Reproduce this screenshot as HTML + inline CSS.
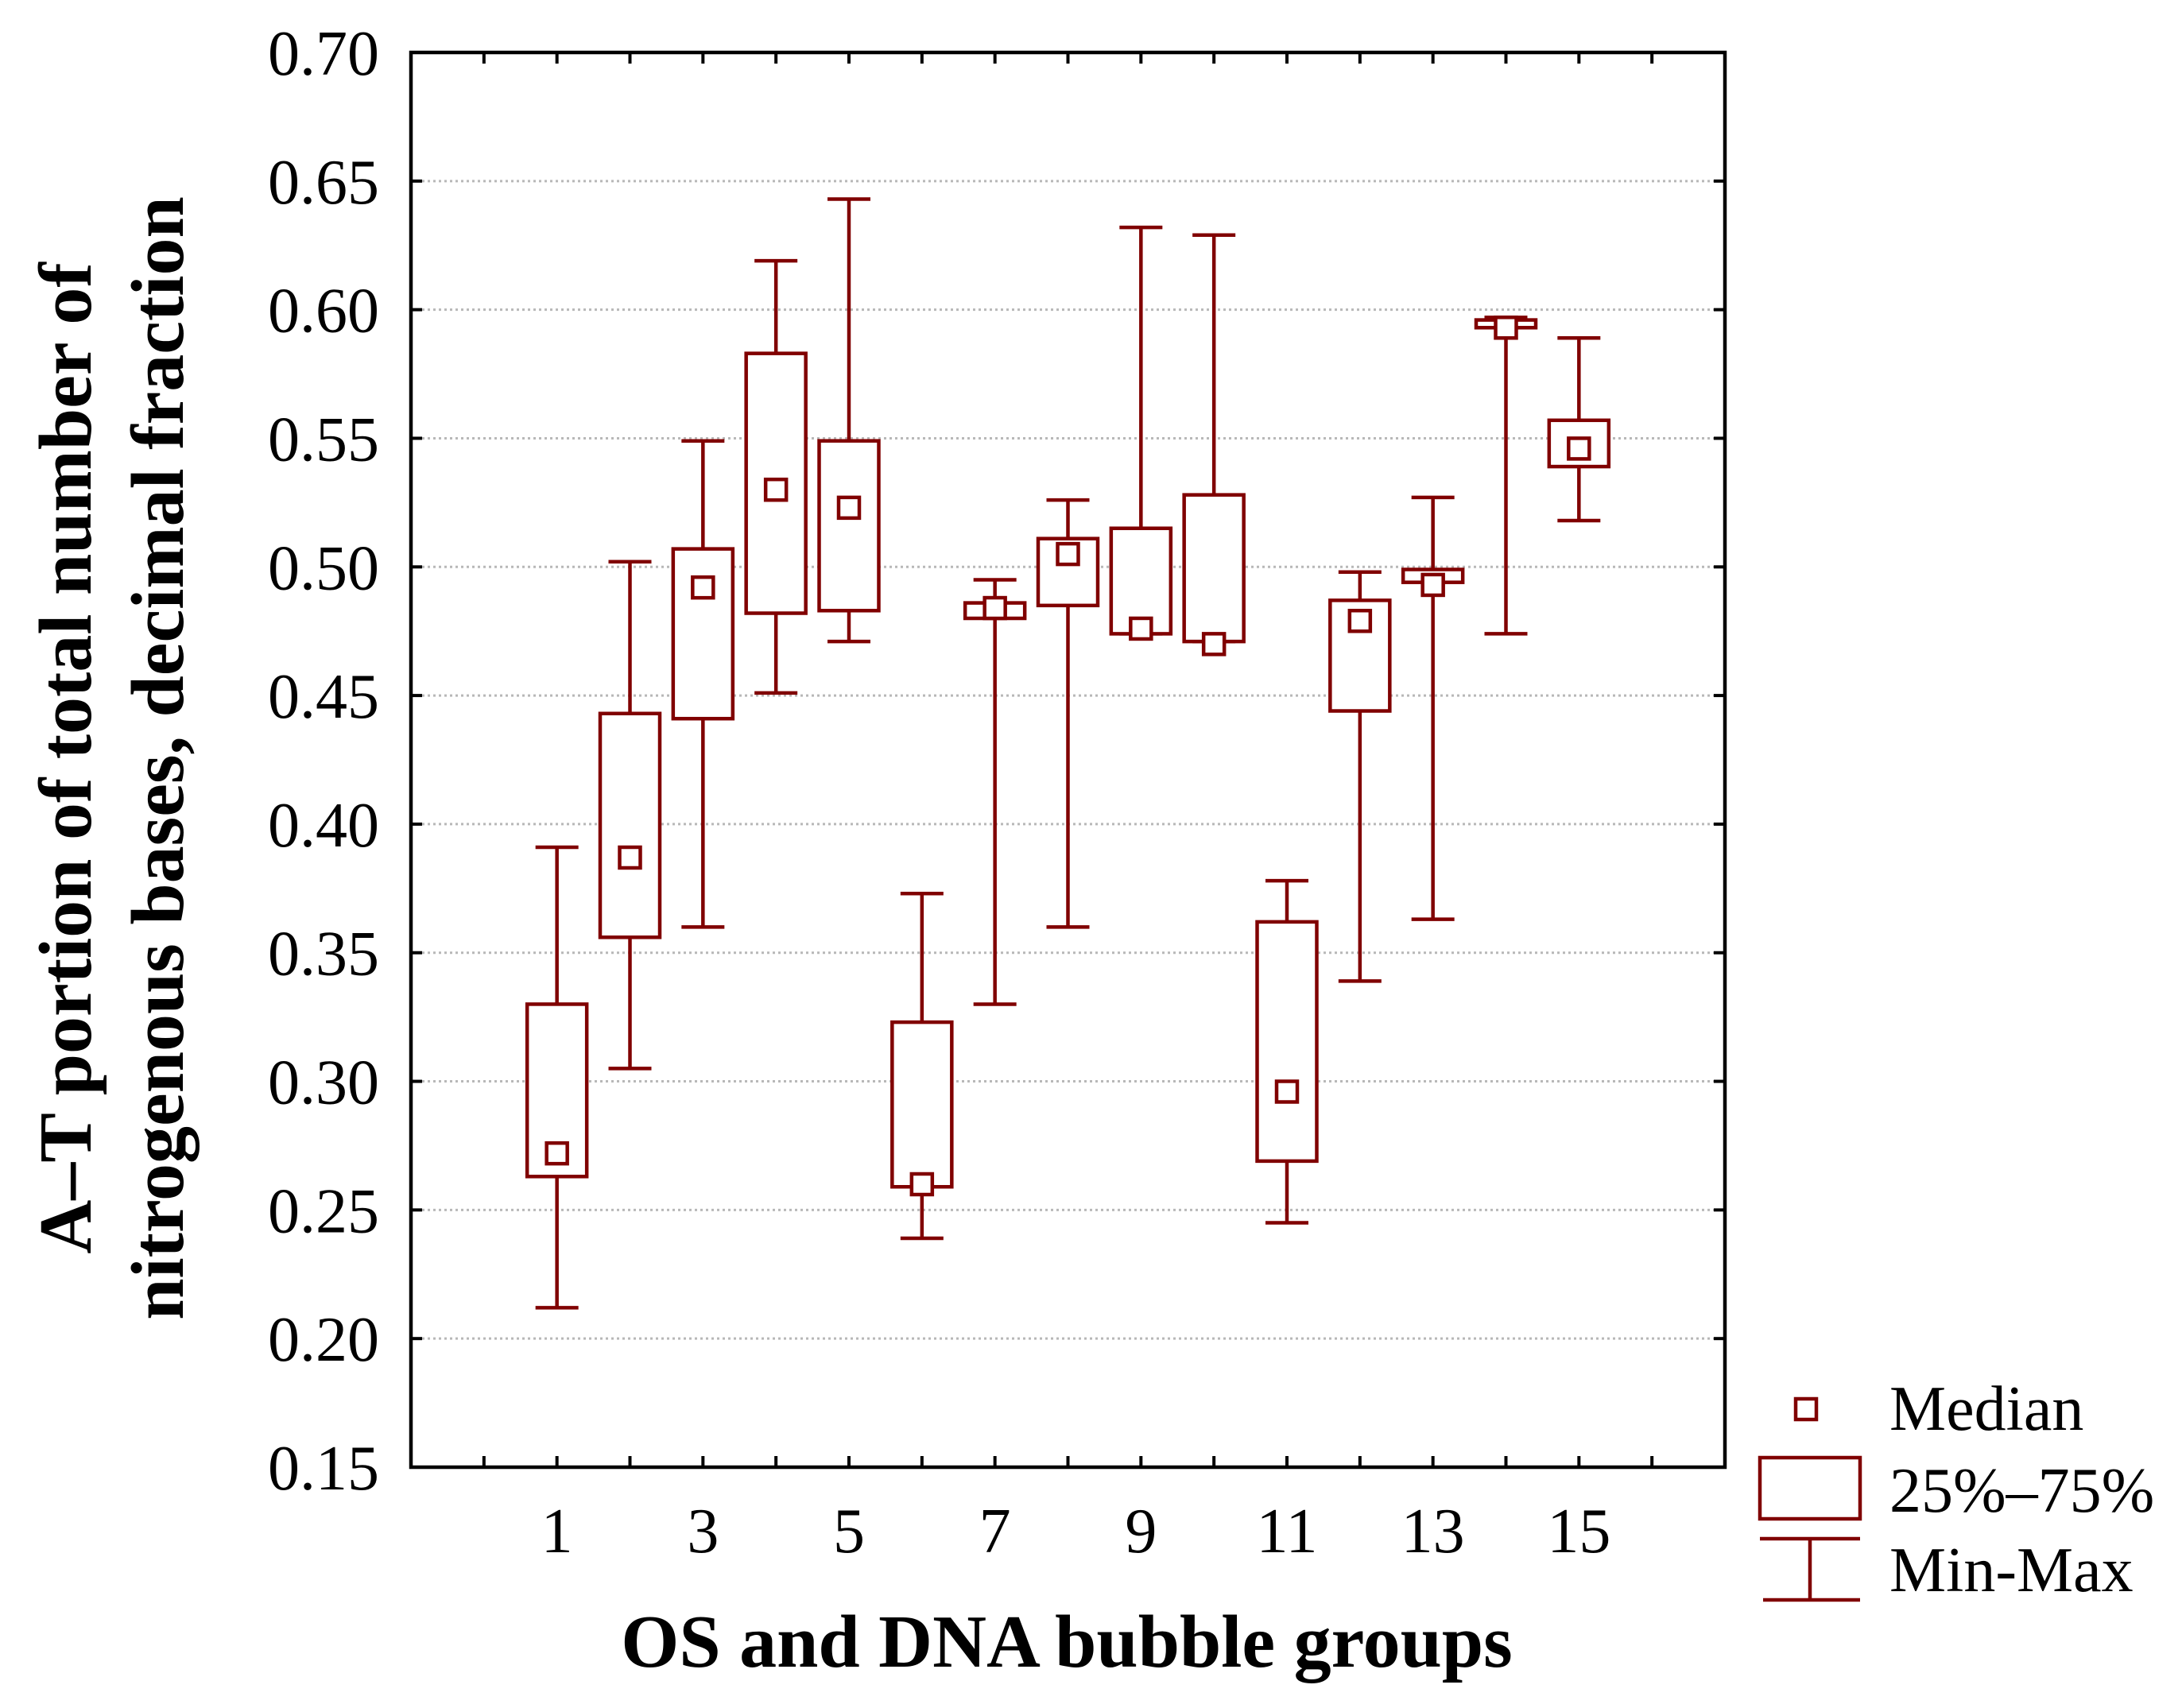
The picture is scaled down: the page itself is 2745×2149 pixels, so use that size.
<!DOCTYPE html>
<html><head><meta charset="utf-8"><style>
html,body{margin:0;padding:0;background:#fff;}
svg{display:block;font-family:"Liberation Serif",serif;}
</style></head><body>
<svg id="chart" width="2745" height="2149" viewBox="0 0 2745 2149" xmlns="http://www.w3.org/2000/svg">
<g id="grid"></g>
<g id="marks"></g>
<g id="axes"></g>
<text x="1342" y="2097" font-size="94" font-weight="bold" text-anchor="middle">OS and DNA bubble groups</text>
<g font-size="94" font-weight="bold" text-anchor="middle">
<text transform="translate(114,954) rotate(-90)">A–T portion of total number of</text>
<text transform="translate(230,954) rotate(-90)">nitrogenous bases, decimal fraction</text>
</g>
<g>
<rect x="2259" y="1760" width="26" height="26" fill="none" stroke="#800000" stroke-width="4.5"/>
<text x="2377" y="1799" font-size="80">Median</text>
<rect x="2214" y="1834" width="126" height="77" fill="none" stroke="#800000" stroke-width="4.5"/>
<text x="2377" y="1902" font-size="80">25%–75%</text>
<line x1="2214" y1="1936" x2="2340" y2="1936" stroke="#800000" stroke-width="4.5"/>
<line x1="2277" y1="1936" x2="2277" y2="2013" stroke="#800000" stroke-width="4.5"/>
<line x1="2218" y1="2013" x2="2340" y2="2013" stroke="#800000" stroke-width="4.5"/>
<text x="2377" y="2002" font-size="80">Min-Max</text>
</g>
</svg>
<script>
const groups = [1,2,3,4,5,6,7,8,9,10,11,12,13,14,15];
const maxVals = [0.391,0.502,0.549,0.619,0.643,0.373,0.495,0.526,0.632,0.629,0.378,0.498,0.527,0.597,0.589];
const q3Vals  = [0.330,0.443,0.507,0.583,0.549,0.323,0.486,0.511,0.515,0.528,0.362,0.487,0.499,0.596,0.557];
const medVals = [0.272,0.387,0.492,0.530,0.523,0.260,0.484,0.505,0.476,0.470,0.296,0.479,0.493,0.593,0.546];
const q1Vals  = [0.263,0.356,0.441,0.482,0.483,0.259,0.480,0.485,0.474,0.471,0.269,0.444,0.494,0.593,0.539];
const minVals = [0.212,0.305,0.360,0.451,0.471,0.239,0.330,0.360,0.474,0.471,0.245,0.339,0.363,0.474,0.518];
const yTicks = [0.15,0.20,0.25,0.30,0.35,0.40,0.45,0.50,0.55,0.60,0.65,0.70];
const xTickLabels = [1,3,5,7,9,11,13,15];

const L=517,R=2170,T=66,B=1846;
const xMin=-1,xMax=17,yMin=0.15,yMax=0.70;
const X=v=>L+(v-xMin)/(xMax-xMin)*(R-L);
const Y=v=>B-(v-yMin)/(yMax-yMin)*(B-T);
const NS="http://www.w3.org/2000/svg";
const C="#800000";
function mk(tag,attrs,parent){const e=document.createElementNS(NS,tag);for(const k in attrs)e.setAttribute(k,attrs[k]);parent.appendChild(e);return e;}
const grid=document.getElementById('grid'),marks=document.getElementById('marks'),axes=document.getElementById('axes');

yTicks.forEach(v=>{
  if(v>yMin&&v<yMax){
    const g=mk('line',{x1:L,x2:R,y1:Y(v),y2:Y(v),stroke:'#b8b8b8','stroke-width':3,'stroke-dasharray':'3 4'},grid);
    
    
  }
  mk('line',{x1:L,x2:L+14,y1:Y(v),y2:Y(v),stroke:'#000','stroke-width':4},axes);
  mk('line',{x1:R,x2:R-14,y1:Y(v),y2:Y(v),stroke:'#000','stroke-width':4},axes);
  const t=mk('text',{x:477,y:Y(v)+28,'font-size':80,'text-anchor':'end'},axes);
  t.textContent=v.toFixed(2);
  
  
});
for(let c=xMin+1;c<xMax;c++){
  mk('line',{x1:X(c),x2:X(c),y1:B,y2:B-14,stroke:'#000','stroke-width':4},axes);
  mk('line',{x1:X(c),x2:X(c),y1:T,y2:T+14,stroke:'#000','stroke-width':4},axes);
}
xTickLabels.forEach(v=>{
  const t=mk('text',{x:X(v),y:1953,'font-size':80,'text-anchor':'middle'},axes);
  t.textContent=v;
  
  
});
const frame=mk('rect',{x:L,y:T,width:R-L,height:B-T,fill:'none',stroke:'#000','stroke-width':4.5},axes);



const bw=75,cw=54,mw=26;
groups.forEach((g,i)=>{
  const x=X(g);
  const grp=mk('g',{fill:'none',stroke:C,'stroke-width':4.5},marks);
  
  
  mk('line',{x1:x,x2:x,y1:Y(maxVals[i]),y2:Y(q3Vals[i])},grp);
  mk('line',{x1:x,x2:x,y1:Y(q1Vals[i]),y2:Y(minVals[i])},grp);
  mk('line',{x1:x-cw/2,x2:x+cw/2,y1:Y(maxVals[i]),y2:Y(maxVals[i])},grp);
  mk('line',{x1:x-cw/2,x2:x+cw/2,y1:Y(minVals[i]),y2:Y(minVals[i])},grp);
  const b=mk('rect',{x:x-bw/2,y:Y(q3Vals[i]),width:bw,height:Math.max(1,Y(q1Vals[i])-Y(q3Vals[i])),fill:'#fff'},grp);
  
  
  const m=mk('rect',{x:x-mw/2,y:Y(medVals[i])-mw/2,width:mw,height:mw,fill:'#fff'},grp);
  
  
});
</script>
</body></html>
